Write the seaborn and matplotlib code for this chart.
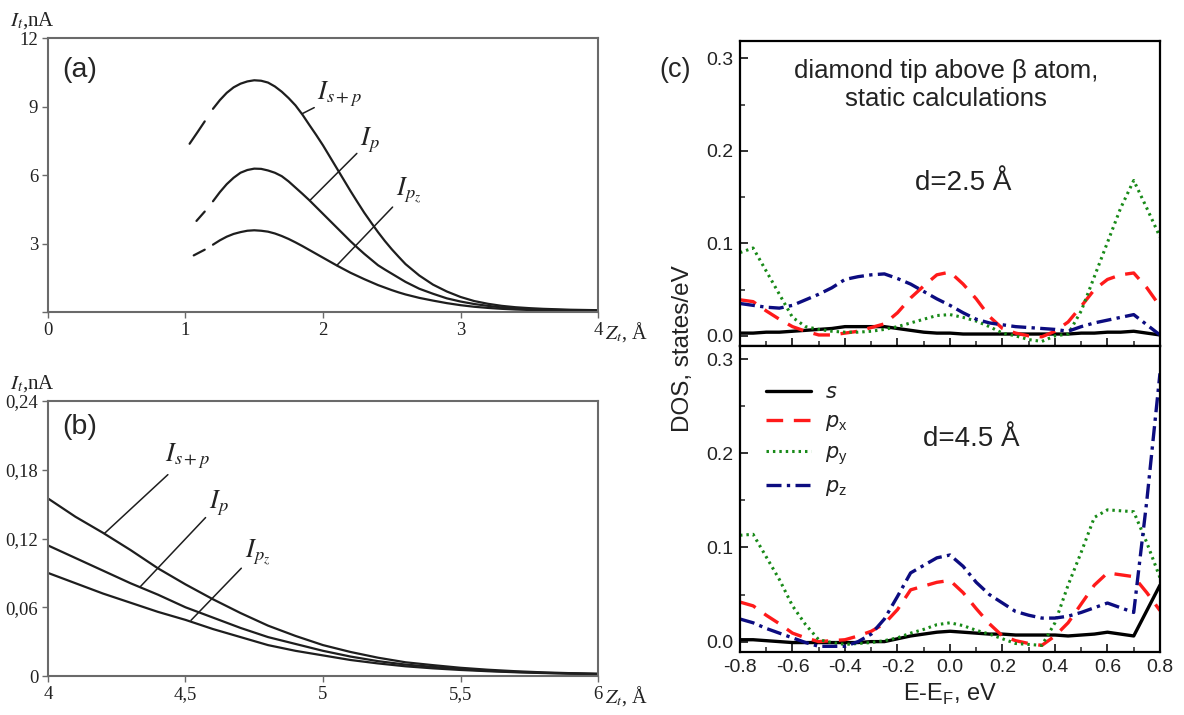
import numpy as np
import matplotlib
matplotlib.use("Agg")
import matplotlib.pyplot as plt
from matplotlib.ticker import FixedLocator, MultipleLocator
import seaborn as sns

sns.set_style("white")
plt.rcParams["font.family"] = ["Liberation Sans", "DejaVu Sans"]
plt.rcParams["axes.unicode_minus"] = False

# ---------------- data: panel (a) ----------------
z_a = [1.2, 1.25, 1.3, 1.35, 1.4, 1.45, 1.5, 1.55, 1.6, 1.65, 1.7, 1.75, 1.8, 1.85, 1.9,
       1.95, 2.0, 2.05, 2.1, 2.15, 2.2, 2.25, 2.3, 2.35, 2.4, 2.45, 2.5, 2.55, 2.6,
       2.7, 2.8, 2.9, 3.0, 3.1, 3.2, 3.3, 3.4, 3.5, 3.6, 3.7, 3.8, 3.9, 4.0]
I_sp_a = [8.9, 9.28, 9.6, 9.84, 10.0, 10.1, 10.15, 10.13, 10.05, 9.88, 9.65, 9.37, 9.05, 8.65,
          8.2, 7.76, 7.3, 6.8, 6.3, 5.8, 5.3, 4.82, 4.35, 3.92, 3.5, 3.11, 2.75, 2.42, 2.1,
          1.6, 1.2, 0.9, 0.66, 0.48, 0.36, 0.27, 0.21, 0.17, 0.14, 0.12, 0.1, 0.09, 0.08]
I_p_a = [4.85, 5.25, 5.6, 5.88, 6.1, 6.22, 6.28, 6.27, 6.2, 6.1, 5.95, 5.72, 5.45, 5.18,
         4.9, 4.6, 4.3, 4.0, 3.7, 3.4, 3.1, 2.82, 2.55, 2.3, 2.05, 1.86, 1.68, 1.5, 1.32,
         1.02, 0.8, 0.6, 0.46, 0.35, 0.27, 0.2, 0.16, 0.13, 0.1, 0.09, 0.08, 0.07, 0.06]
I_pz_a = [2.95, 3.14, 3.3, 3.42, 3.5, 3.56, 3.58, 3.56, 3.52, 3.44, 3.33, 3.2, 3.05, 2.89,
          2.72, 2.55, 2.38, 2.21, 2.04, 1.88, 1.72, 1.58, 1.44, 1.31, 1.18, 1.07, 0.96, 0.86,
          0.77, 0.62, 0.5, 0.39, 0.3, 0.23, 0.18, 0.14, 0.11, 0.09, 0.07, 0.06, 0.05, 0.04, 0.04]
# short detached starting pieces of the curves in (a)
z_sp_start = [1.03, 1.09, 1.14]
I_sp_start = [7.37, 7.9, 8.35]
z_p_start = [1.08, 1.14]
I_p_start = [3.99, 4.4]
z_pz_start = [1.06, 1.14]
I_pz_start = [2.48, 2.73]
xt_a = [0, 1, 2, 3, 4]
xt_a_labels = ["0", "1", "2", "3", "4"]
yt_a = [0, 3, 6, 9, 12]
yt_a_labels = ["", "3", "6", "9", "12"]

# ---------------- data: panel (b) ----------------
z_b = [4.0, 4.1, 4.2, 4.3, 4.4, 4.5, 4.6, 4.7, 4.8, 4.9, 5.0, 5.1, 5.2, 5.3, 5.4,
       5.5, 5.6, 5.7, 5.8, 5.9, 6.0]
I_sp_b = [0.155, 0.139, 0.125, 0.110, 0.094, 0.080, 0.067, 0.055, 0.044, 0.035, 0.027,
          0.021, 0.016, 0.012, 0.0095, 0.0072, 0.0055, 0.0042, 0.0032, 0.0025, 0.002]
I_p_b = [0.114, 0.103, 0.092, 0.081, 0.071, 0.060, 0.051, 0.042, 0.034, 0.028, 0.022,
         0.017, 0.013, 0.010, 0.008, 0.006, 0.0046, 0.0036, 0.0028, 0.0022, 0.0018]
I_pz_b = [0.090, 0.081, 0.072, 0.064, 0.056, 0.049, 0.041, 0.034, 0.027, 0.022, 0.018,
          0.014, 0.011, 0.0085, 0.0067, 0.0053, 0.0042, 0.0033, 0.0026, 0.0021, 0.0017]
xt_b = [4, 4.5, 5, 5.5, 6]
xt_b_labels = ["4", "4,5", "5", "5,5", "6"]
yt_b = [0, 0.06, 0.12, 0.18, 0.24]
yt_b_labels = ["0", "0,06", "0,12", "0,18", "0,24"]

# ---------------- data: panel (c) ----------------
E = [-0.80, -0.75, -0.70, -0.65, -0.60, -0.55, -0.50, -0.45, -0.40, -0.35, -0.30,
     -0.25, -0.20, -0.15, -0.10, -0.05, 0.00, 0.05, 0.10, 0.15, 0.20, 0.25, 0.30,
     0.35, 0.40, 0.45, 0.50, 0.55, 0.60, 0.65, 0.70, 0.75, 0.80]
# d = 2.5 A
s_25 = [0.003, 0.003, 0.004, 0.004, 0.005, 0.006, 0.007, 0.008, 0.010, 0.010, 0.010,
        0.010, 0.008, 0.006, 0.004, 0.003, 0.003, 0.002, 0.002, 0.002, 0.002, 0.002,
        0.002, 0.002, 0.002, 0.002, 0.003, 0.003, 0.004, 0.004, 0.005, 0.003, 0.001]
px_25 = [0.039, 0.037, 0.027, 0.018, 0.010, 0.005, 0.001, 0.001, 0.003, 0.005, 0.009,
         0.013, 0.025, 0.041, 0.054, 0.066, 0.069, 0.056, 0.040, 0.021, 0.008, 0.003,
         0.000, -0.001, 0.005, 0.015, 0.032, 0.050, 0.061, 0.066, 0.068, 0.052, 0.032]
py_25 = [0.090, 0.095, 0.070, 0.045, 0.020, 0.010, 0.007, 0.005, 0.004, 0.004, 0.005,
         0.007, 0.010, 0.014, 0.018, 0.022, 0.023, 0.020, 0.016, 0.010, 0.003, 0.000,
         -0.004, -0.006, 0.000, 0.002, 0.027, 0.064, 0.101, 0.138, 0.168, 0.138, 0.107]
pz_25 = [0.035, 0.033, 0.031, 0.030, 0.033, 0.039, 0.045, 0.052, 0.061, 0.064, 0.066,
         0.067, 0.062, 0.056, 0.048, 0.040, 0.033, 0.025, 0.018, 0.014, 0.012, 0.010,
         0.009, 0.008, 0.007, 0.005, 0.010, 0.014, 0.017, 0.020, 0.023, 0.012, 0.001]
# d = 4.5 A
s_45 = [0.002, 0.002, 0.001, 0.000, -0.001, -0.001, -0.001, -0.001, -0.001, -0.001, 0.000,
        0.000, 0.003, 0.006, 0.008, 0.010, 0.011, 0.010, 0.009, 0.008, 0.008, 0.007,
        0.007, 0.007, 0.007, 0.006, 0.007, 0.008, 0.010, 0.008, 0.006, 0.033, 0.060]
px_45 = [0.042, 0.038, 0.028, 0.019, 0.009, 0.004, 0.000, 0.001, 0.002, 0.006, 0.011,
         0.019, 0.034, 0.055, 0.059, 0.063, 0.065, 0.052, 0.035, 0.019, 0.006, 0.001,
         -0.002, -0.004, 0.006, 0.020, 0.040, 0.060, 0.073, 0.071, 0.069, 0.052, 0.033]
py_45 = [0.113, 0.114, 0.090, 0.066, 0.038, 0.018, 0.002, -0.001, -0.003, -0.002, -0.001,
         0.001, 0.004, 0.009, 0.013, 0.018, 0.020, 0.017, 0.012, 0.008, 0.003, -0.002,
         -0.003, -0.004, 0.020, 0.060, 0.095, 0.132, 0.140, 0.139, 0.138, 0.105, 0.068]
pz_45 = [0.024, 0.020, 0.014, 0.009, 0.004, -0.001, -0.005, -0.005, -0.005, 0.000, 0.008,
         0.024, 0.048, 0.073, 0.081, 0.089, 0.092, 0.080, 0.063, 0.050, 0.041, 0.032,
         0.028, 0.025, 0.025, 0.027, 0.031, 0.036, 0.041, 0.036, 0.031, 0.150, 0.285]
xt_c = [-0.8, -0.6, -0.4, -0.2, 0.0, 0.2, 0.4, 0.6, 0.8]
xt_c_labels = ["-0.8", "-0.6", "-0.4", "-0.2", "0.0", "0.2", "0.4", "0.6", "0.8"]
yt_c = [0.0, 0.1, 0.2, 0.3]
yt_c_labels = ["0.0", "0.1", "0.2", "0.3"]
orb_labels = [r"$s$", r"$p_{\mathregular{x}}$", r"$p_{\mathregular{y}}$", r"$p_{\mathregular{z}}$"]

# ---------------- figure ----------------
fig = plt.figure(figsize=(11.84, 7.15), dpi=100)
ax_a = fig.add_axes([0.0405, 0.5636, 0.4646, 0.3832])
ax_b = fig.add_axes([0.0405, 0.0545, 0.4646, 0.3846])
ax_c1 = fig.add_axes([0.625, 0.516, 0.3547, 0.427])
ax_c2 = fig.add_axes([0.625, 0.0875, 0.3547, 0.4285])

curve_col = "#1e1e1e"
spine_col = "#6a6a6a"
serif = ["Liberation Serif", "DejaVu Serif"]

def style_ab(ax, xt, xtl, yt, ytl, xlim, ylim):
    ax.set_xlim(*xlim)
    ax.set_ylim(*ylim)
    ax.xaxis.set_major_locator(FixedLocator(xt))
    ax.set_xticklabels(xtl)
    ax.yaxis.set_major_locator(FixedLocator(yt))
    ax.set_yticklabels(ytl)
    for sp in ax.spines.values():
        sp.set_color(spine_col)
        sp.set_linewidth(1.5)
    ax.tick_params(direction="out", length=4, width=1, color=spine_col,
                   labelsize=13.5, pad=3, bottom=True, left=True)
    for lab in ax.get_xticklabels() + ax.get_yticklabels():
        lab.set_family(serif)
        lab.set_color("#222222")
    ax.set_xlabel("")
    ax.set_ylabel("")

# panel (a)
for zz, yy in [(z_a, I_sp_a), (z_a, I_p_a), (z_a, I_pz_a),
               (z_sp_start, I_sp_start), (z_p_start, I_p_start), (z_pz_start, I_pz_start)]:
    sns.lineplot(x=zz, y=yy, ax=ax_a, color=curve_col, linewidth=1.6, legend=False)
style_ab(ax_a, xt_a, xt_a_labels, yt_a, yt_a_labels, (0, 4), (0, 12))

lbl_kw = dict(fontsize=19, math_fontfamily="stix", color="#222222",
              arrowprops=dict(arrowstyle="-", color=curve_col, lw=1.1, shrinkA=0, shrinkB=0))
ax_a.annotate(r"$I_{s+p}$", xy=(1.85, 8.69), xytext=(1.96, 9.3), ha="left", va="baseline", **lbl_kw)
ax_a.annotate(r"$I_{p}$", xy=(1.91, 4.92), xytext=(2.27, 7.3), ha="left", va="baseline", **lbl_kw)
ax_a.annotate(r"$I_{p_z}$", xy=(2.10, 2.04), xytext=(2.53, 5.1), ha="left", va="baseline", **lbl_kw)
ax_a.text(0.026, 0.882, "(a)", transform=ax_a.transAxes, fontsize=20.5, va="center")

# panel (b)
for yy in [I_sp_b, I_p_b, I_pz_b]:
    sns.lineplot(x=z_b, y=yy, ax=ax_b, color=curve_col, linewidth=1.6, legend=False)
style_ab(ax_b, xt_b, xt_b_labels, yt_b, yt_b_labels, (4, 6), (0, 0.24))
ax_b.annotate(r"$I_{s+p}$", xy=(4.205, 0.1244), xytext=(4.425, 0.187), ha="left", va="baseline", **lbl_kw)
ax_b.annotate(r"$I_{p}$", xy=(4.335, 0.0778), xytext=(4.585, 0.146), ha="left", va="baseline", **lbl_kw)
ax_b.annotate(r"$I_{p_z}$", xy=(4.52, 0.0486), xytext=(4.715, 0.104), ha="left", va="baseline", **lbl_kw)
ax_b.text(0.026, 0.905, "(b)", transform=ax_b.transAxes, fontsize=20.5, va="center")

for ax, ytop in [(ax_a, 1 - 21 / 715), (ax_b, 1 - 384 / 715)]:
    fig.text(10 / 1184, ytop, r"$I_t$,nA", fontsize=15, family=serif, math_fontfamily="stix",
             va="center", ha="left", color="#222222")
for ax in (ax_a, ax_b):
    ax.text(1.012, -0.072, r"$Z_t$, Å", transform=ax.transAxes, fontsize=14.5, family=serif,
            math_fontfamily="stix", va="center", ha="left", color="#222222")

# panel (c)
styles = [
    dict(color="black", linestyle="-", linewidth=2.4),
    dict(color="#ff1a1a", linestyle=(0, (5, 3.2)), linewidth=2.4),
    dict(color="#188a18", linestyle=(0, (0.8, 1.3)), linewidth=2.2),
    dict(color="#0c0c80", linestyle=(0, (4.5, 1.6, 1.0, 1.6)), linewidth=2.4),
]
for ax, series in [(ax_c1, [s_25, px_25, py_25, pz_25]), (ax_c2, [s_45, px_45, py_45, pz_45])]:
    for yy, st, lab in zip(series, styles, orb_labels):
        sns.lineplot(x=E, y=yy, ax=ax, label=lab, legend=False, **st)
    ax.set_xlim(-0.8, 0.8)
    ax.xaxis.set_major_locator(FixedLocator(xt_c))
    ax.set_xticklabels(xt_c_labels)
    ax.xaxis.set_minor_locator(MultipleLocator(0.1))
    ax.yaxis.set_major_locator(FixedLocator(yt_c))
    ax.set_yticklabels(yt_c_labels)
    ax.yaxis.set_minor_locator(MultipleLocator(0.05))
    for sp in ax.spines.values():
        sp.set_color("black")
        sp.set_linewidth(1.6)
    ax.tick_params(which="major", direction="in", length=6, width=1.3, labelsize=14,
                   color="#222222", labelcolor="#222222", bottom=True, left=True, pad=5)
    ax.tick_params(which="minor", direction="in", length=3.5, width=1.1, color="#222222",
                   bottom=True, left=True)
    ax.set_xlabel("")
    ax.set_ylabel("")
ax_c1.set_ylim(-0.011, 0.319)
ax_c2.set_ylim(-0.0115, 0.314)
ax_c1.tick_params(labelbottom=False)

ax_c1.text(-0.015, 0.2715, "diamond tip above β atom,\nstatic calculations", ha="center", va="center",
           fontsize=18.5, color="#222222", linespacing=1.2)
ax_c1.text(0.05, 0.165, "d=2.5 Å", ha="center", va="center", fontsize=20, color="#222222")
ax_c2.text(0.08, 0.215, "d=4.5 Å", ha="center", va="center", fontsize=20, color="#222222")
ax_c1.text(-0.155, 0.905, "(c)", transform=ax_c1.transAxes, fontsize=19.5, va="center", ha="center")

h, l = ax_c2.get_legend_handles_labels()
leg = ax_c2.legend(h, l, loc="upper left", bbox_to_anchor=(0.041, 0.905), frameon=False,
                   fontsize=15, handlelength=2.2, labelspacing=0.48, handletextpad=0.67,
                   borderaxespad=0)
for t in leg.get_texts():
    t.set_color("#222222")

fig.text(683 / 1184, 1 - 349 / 715, "DOS, states/eV", rotation=90, ha="center", va="center",
         fontsize=17.5, color="#222222")
ax_c2.set_xlabel(r"E-E$_\mathregular{F}$, eV", fontsize=17, color="#222222", labelpad=4)

fig.savefig("out.png", dpi=100)
